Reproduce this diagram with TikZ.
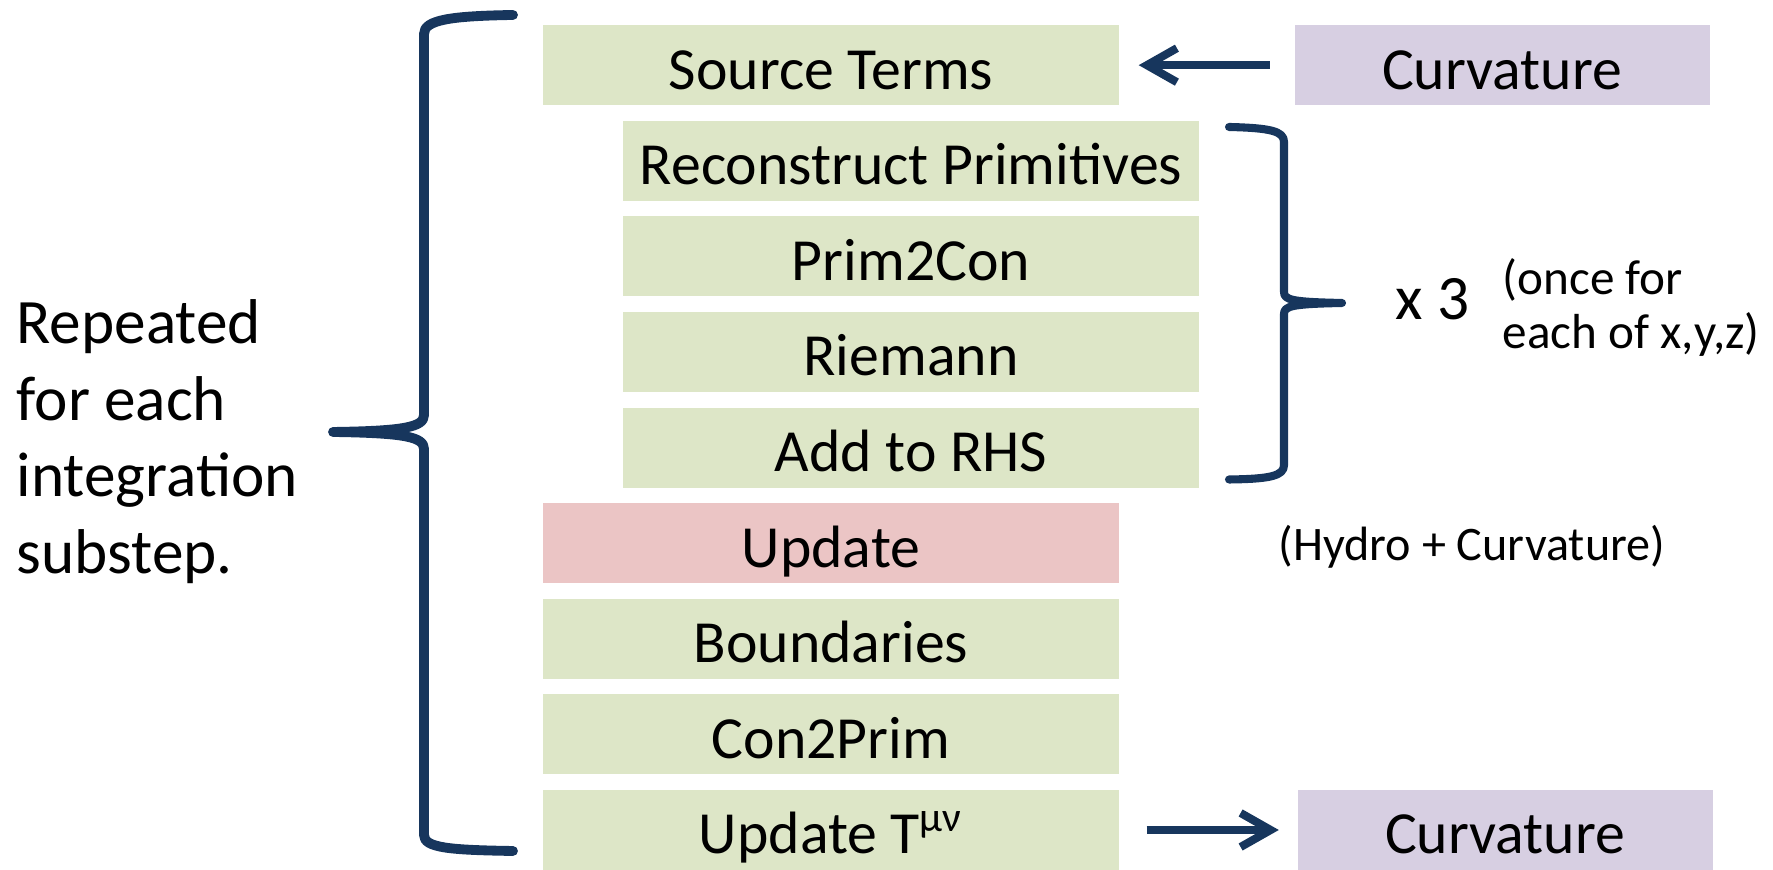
\documentclass[tikz,border=0pt]{standalone}
\usepackage{fontspec}
\setmainfont{Carlito}
\usetikzlibrary{arrows.meta}

\definecolor{gruen}{RGB}{221,230,199}
\definecolor{rosa}{RGB}{235,197,197}
\definecolor{lila}{RGB}{215,207,226}
\definecolor{dunkelblau}{RGB}{23,54,93}

\begin{document}
\begin{tikzpicture}
		[
		x=1cm, y=1cm, font=\fontsize{17}{20.4}\selectfont,
		%Voreinstellungen für Kästen, Klammern und Pfeile
		schritt/.style={fill=gruen, minimum width=5.76cm, minimum height=0.8cm, inner sep=0pt, text height=0.48cm, text depth=0pt},
		kruemmung/.style={fill=lila, minimum width=4.15cm, minimum height=0.8cm, inner sep=0pt, text height=0.48cm, text depth=0pt},
		klammer/.style={line width=2.8pt, dunkelblau, line cap=round, line join=round},
		pfeil/.style={-{Straight Barb[length=3mm, width=3.4mm]}, line width=2.3pt, dunkelblau}
		]
		
		\useasboundingbox (0,0) rectangle (17.73,8.70);
		
		%Kästen links
		\node[schritt] (quell) at (8.31,8.048) {Source Terms};
		\node[schritt] (rekon) at (9.11,7.092) {Reconstruct Primitives};
		\node[schritt] (p2c) at (9.11,6.136) {Prim2Con};
		\node[schritt] (riemann) at (9.11,5.18) {Riemann};
		\node[schritt] (rhs) at (9.11,4.224) {Add to RHS};
		\node[schritt, fill=rosa] (update) at (8.31,3.268) {Update};
		\node[schritt] (rand) at (8.31,2.312) {Boundaries};
		\node[schritt] (c2p) at (8.31,1.356) {Con2Prim};
		\node[schritt] (tmunu) at (8.31,0.40) {Update T\textsuperscript{μν}};
		
		%Krümmung oben und unten
		\node[kruemmung] (kruemmungoben) at (15.02,8.048) {Curvature};
		\node[kruemmung] (kruemmungunten) at (15.05,0.40) {Curvature};
		
		%Pfeile
		\draw[pfeil, shorten <=0.24cm, shorten >=0.19cm] (kruemmungoben) -- (quell);
		\draw[pfeil, shorten <=0.27cm, shorten >=0.18cm] (tmunu) -- (kruemmungunten);
		
		%große Klammer links
		\draw[klammer] (5.13,8.55) .. controls (4.50,8.54) and (4.24,8.50) .. (4.24,8.36)
			-- (4.24,4.55) .. controls (4.24,4.43) and (4.05,4.39) .. (3.33,4.38)
			.. controls (4.05,4.37) and (4.24,4.33) .. (4.24,4.21)
			-- (4.24,0.35) .. controls (4.24,0.22) and (4.50,0.20) .. (5.13,0.19);
		
		%Klammer rechts
		\draw[klammer, line width=2.3pt] (12.29,7.43) .. controls (12.70,7.42) and (12.84,7.39) .. (12.84,7.28)
			-- (12.84,5.78) .. controls (12.84,5.70) and (12.92,5.68) .. (13.42,5.67)
			.. controls (12.92,5.66) and (12.84,5.64) .. (12.84,5.56)
			-- (12.84,4.05) .. controls (12.84,3.94) and (12.70,3.91) .. (12.29,3.905);
		
		%Beschriftungen
		\node[anchor=north west, align=left, inner sep=0pt, font=\fontsize{18}{21.8}\selectfont] (wiederholt) at (0.16,5.71) {Repeated\\for each\\integration\\substep.};
		\node[anchor=base west, inner sep=0pt, font=\fontsize{18}{21.6}\selectfont] (mal3) at (13.95,5.50) {x 3};
		\node[anchor=north west, align=left, inner sep=0pt, font=\fontsize{14}{15.4}\selectfont] (xyz) at (15.02,6.12) {(once for\\each of x,y,z)};
		\node[anchor=west, inner sep=0pt, font=\fontsize{13.7}{16}\selectfont] (hydro) at (12.78,3.235) {(Hydro + Curvature)};
		
\end{tikzpicture}
\end{document}
